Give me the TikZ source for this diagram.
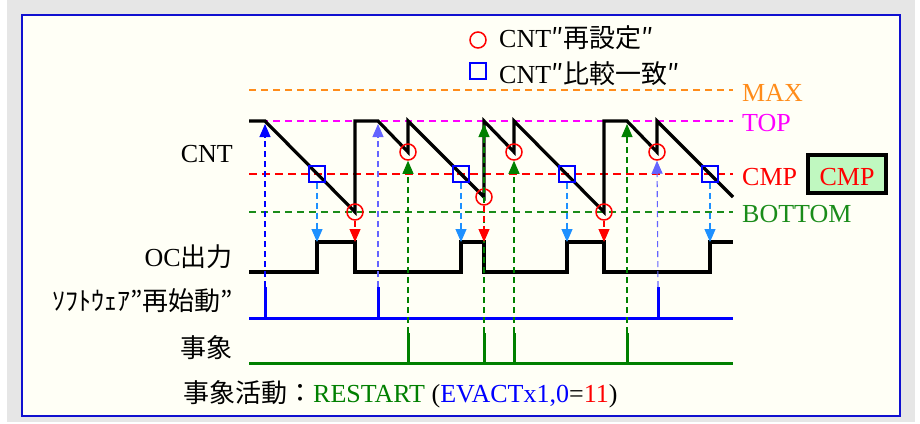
\documentclass[tikz,border=0pt]{standalone}
\usepackage{fontspec}
\setmainfont{Liberation Serif}
\newfontfamily\jp{Noto Sans CJK JP}
\usepackage{xcolor}
\usepackage{tikz}
\usetikzlibrary{arrows.meta,positioning,shapes}

\definecolor{bggray}{HTML}{E6E6E6}
\definecolor{paper}{HTML}{FFFFF6}
\definecolor{framec}{HTML}{1010D0}
\definecolor{maxc}{HTML}{FF8C1A}
\definecolor{topc}{HTML}{FF00FF}
\definecolor{botc}{HTML}{1A8C1A}
\definecolor{evc}{HTML}{008000}
\definecolor{ocblue}{HTML}{1E90FF}
\definecolor{swlite}{HTML}{6464FF}
\definecolor{boxg}{HTML}{C0F8C0}

\begin{document}
\begin{tikzpicture}[
    x=1pt, y=-1pt,
    wave/.style={line width=3.2pt, line join=miter},
    level/.style={dash pattern=on 7pt off 5pt, line width=1.4pt},
    guide/.style={dash pattern=on 6pt off 4pt, line width=1.1pt, -{Triangle[length=13pt,width=11pt]}},
    reset/.style={circle, draw=red, line width=1.5pt, minimum size=16pt, inner sep=0pt},
    match/.style={rectangle, draw=blue, line width=1.5pt, minimum size=16pt, inner sep=0pt},
    txt/.style={font=\fontsize{26}{30}\selectfont, inner sep=0pt},
    pulse/.style={line width=3pt}
]
    % Background and frame
    \useasboundingbox (0,0) rectangle (920,423);
    \fill[bggray] (7,0) rectangle (915,422);
    \draw[framec, line width=2pt, fill=paper] (22,15) rectangle (900,416);

    % Legend
    \node[reset] (lgreset) at (478,40) {};
    \node[txt, anchor=base west] (lgresettxt) at (499,47) {CNT{\jp ″再設定″}};
    \node[match] (lgmatch) at (478,71) {};
    \node[txt, anchor=base west] (lgmatchtxt) at (499,83) {CNT{\jp ″比較一致″}};

    % Levels
    \draw[level, maxc] (249,90) -- (733,90);
    \draw[level, topc] (249,121) -- (733,121);
    \draw[level, red, line width=2.6pt, dash pattern=on 8pt off 5pt] (249,174) -- (733,174);
    \draw[level, botc, line width=1.8pt] (249,212) -- (733,212);
    \node[txt, anchor=base west, text=maxc] (lmax) at (742,101) {MAX};
    \node[txt, anchor=base west, text=topc] (ltop) at (742,131) {TOP};
    \node[txt, anchor=base west, text=red] (lcmp) at (742,185) {CMP};
    \node[txt, anchor=base west, text=botc] (lbot) at (742,222) {BOTTOM};
    \node[draw=black, line width=3.5pt, fill=boxg, minimum width=78pt, minimum height=38pt,
          inner sep=0pt] (cmpbox) at (847,174) {};
    \node[txt, anchor=base, text=red] (cmpboxtxt) at (847,185) {CMP};

    % Signal names
    \node[txt, anchor=base east] (ncnt) at (233,162) {CNT};
    \node[txt, anchor=base east] (noc) at (233,266) {OC{\jp 出力}};
    \node[txt, anchor=base east] (nsw) at (233,310) {\jp ｿﾌﾄｳｪｱ”再始動”};
    \node[txt, anchor=base east] (nev) at (233,357) {\jp 事象};
    \node[txt, anchor=base west] (nact) at (183,402)
        {{\jp 事象活動：}\textcolor{evc}{RESTART} (\textcolor{blue}{EVACTx1,0}=\textcolor{red}{11})};

    % Pulse lines
    \draw[pulse, blue] (249,318) -- (733,318);
    \draw[pulse, evc] (249,363) -- (733,363);
    \foreach \px/\nm in {265/sw1, 378/sw2, 658/sw3} {
        \coordinate (\nm) at (\px,287);
        \draw[pulse, blue] (\px,318) -- (\nm);
    }
    \foreach \px/\nm in {408/ev1, 484/ev2, 514/ev3, 627/ev4} {
        \coordinate (\nm) at (\px,333);
        \draw[pulse, evc] (\px,363) -- (\nm);
    }

    % Counter and output
    \draw[wave] (249,121) -- (265,121) -- (355,212) -- (355,121) -- (378,121) -- (408,152)
        -- (408,121) -- (484,197) -- (484,121) -- (514,152) -- (514,121) -- (604,212)
        -- (604,121) -- (627,121) -- (657,152) -- (657,121) -- (733,197);
    \draw[wave] (249,272) -| (317,242) -| (355,272) -| (461,242) -| (484,272) -| (567,242)
        -| (604,272) -| (710,242) -- (733,242);

    % Markers
    \node[reset] (r1) at (355,212) {};
    \node[reset] (r2) at (408,152) {};
    \node[reset] (r3) at (484,197) {};
    \node[reset] (r4) at (514,152) {};
    \node[reset] (r5) at (604,212) {};
    \node[reset] (r6) at (657,152) {};
    \node[match] (m1) at (317,174) {};
    \node[match] (m2) at (461,174) {};
    \node[match] (m3) at (567,174) {};
    \node[match] (m4) at (710,174) {};

    % Targets
    \coordinate (t1) at (265,124);
    \coordinate (t2) at (378,124);
    \coordinate (t3) at (484,124);
    \coordinate (t4) at (627,124);
    \foreach \m/\x in {m1/317, m2/461, m3/567, m4/710} \coordinate (o\m) at (\x,242);
    \foreach \r/\x in {r1/355, r3/484, r5/604} \coordinate (o\r) at (\x,242);

    % Arrows
    \draw[guide, blue] (sw1) -- (t1);
    \draw[guide, swlite] (sw2) -- (t2);
    \draw[guide, swlite] (sw3) -- (r6.south);
    \draw[guide, evc] (ev1) -- (r2.south);
    \draw[guide, evc] (ev2) -- (t3);
    \draw[guide, evc] (ev3) -- (r4.south);
    \draw[guide, evc] (ev4) -- (t4);
    \foreach \m in {m1, m2, m3, m4} \draw[guide, ocblue] (\m.south) -- (o\m);
    \foreach \r in {r1, r3, r5} \draw[guide, red] (\r.south) -- (o\r);
\end{tikzpicture}
\end{document}
